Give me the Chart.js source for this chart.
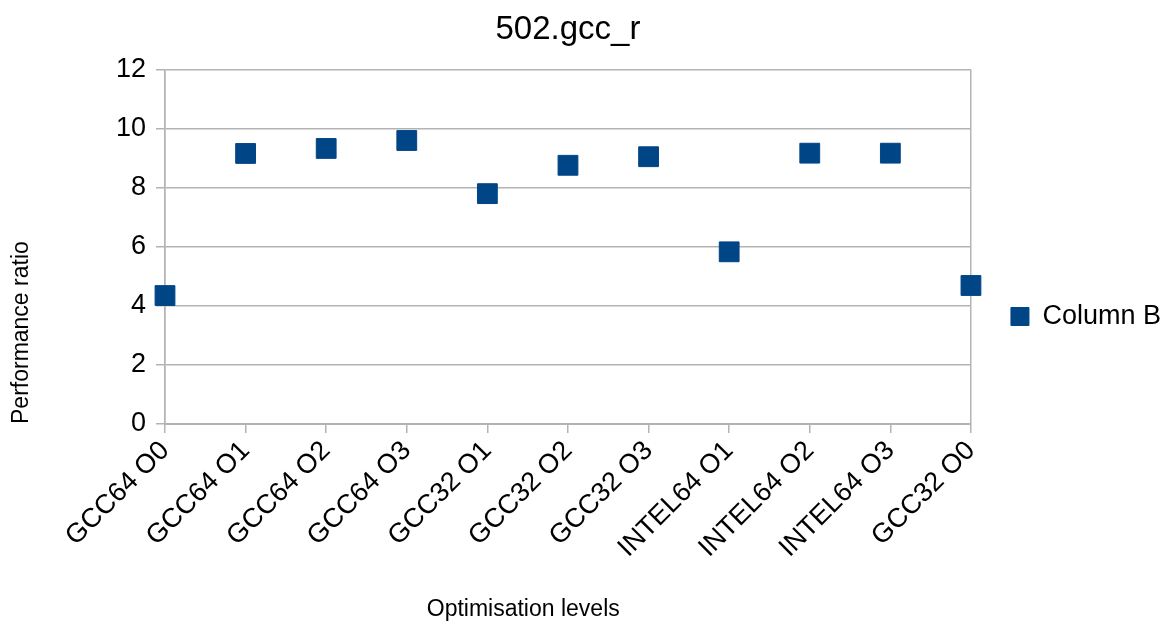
<!DOCTYPE html>
<html>
<head>
<meta charset="utf-8">
<script src="https://cdn.jsdelivr.net/npm/chart.js@4"></script>
<style>
  html, body { margin: 0; padding: 0; background: #fff; }
  #wrap { width: 1165px; height: 627px; }
</style>
</head>
<body>
<div id="wrap"><canvas id="chart" width="1165" height="627"></canvas></div>
<script>
// categories and values
const levels = ["GCC64 O0", "GCC64 O1", "GCC64 O2", "GCC64 O3", "GCC32 O1", "GCC32 O2",
  "GCC32 O3", "INTEL64 O1", "INTEL64 O2", "INTEL64 O3", "GCC32 O0"];
const columnB = [4.35, 9.16, 9.33, 9.6, 7.8, 8.76, 9.05, 5.83, 9.17, 9.17, 4.69];
const yTicks = [0, 2, 4, 6, 8, 10, 12];

const gridGrey = "#b3b3b3";
const blue = "#004586";
const fontFam = "'Liberation Sans', Arial, sans-serif";

const ctx = document.getElementById("chart").getContext("2d");
new Chart(ctx, {
  type: "line",
  data: {
    labels: levels,
    datasets: [{
      label: "Column B",
      data: columnB,
      showLine: false,
      pointStyle: "rect",
      pointRadius: 14,
      pointHoverRadius: 14,
      backgroundColor: blue,
      borderColor: blue,
      borderWidth: 1,
    }],
  },
  options: {
    responsive: false,
    animation: false,
    layout: { padding: { left: 8, right: -6, top: 10, bottom: 4 } },
    plugins: {
      title: {
        display: true,
        fullSize: false,
        text: "502.gcc_r",
        color: "#000",
        font: { family: fontFam, size: 33, weight: "normal" },
        padding: { top: 0, bottom: 20 },
      },
      legend: {
        position: "right",
        labels: {
          color: "#000",
          font: { family: fontFam, size: 27 },
          usePointStyle: true,
          pointStyle: "rect",
          boxWidth: 18,
          boxHeight: 18,
          padding: 40,
        },
      },
      tooltip: { enabled: false },
    },
    scales: {
      x: {
        offset: false,
        afterFit: (scale) => { scale.height = 199; },
        grid: {
          color: (c) => (c.index === 0 || c.index === levels.length - 1 ? gridGrey : "transparent"),
          tickColor: gridGrey,
          tickLength: 9,
          lineWidth: 1.5,
        },
        border: { display: true, color: gridGrey, width: 2 },
        ticks: {
          color: "#000",
          font: { family: fontFam, size: 27 },
          maxRotation: 45,
          minRotation: 45,
          autoSkip: false,
          padding: 2,
        },
        title: {
          display: true,
          // trailing spaces push the title left, like the original which centres it under the labels too
          text: "Optimisation levels" + " ".repeat(14),
          color: "#000",
          font: { family: fontFam, size: 23 },
          padding: { top: 20, bottom: 0 },
        },
      },
      y: {
        min: 0,
        max: 12,
        afterFit: (scale) => { scale.width = 157; },
        afterBuildTicks: (scale) => { scale.ticks = yTicks.map(v => ({ value: v })); },
        grid: { color: gridGrey, tickColor: gridGrey, tickLength: 9, lineWidth: 1.5 },
        border: { display: true, color: gridGrey, width: 1.5 },
        ticks: {
          color: "#000",
          font: { family: fontFam, size: 27 },
          padding: 10,
        },
        title: {
          display: true,
          align: "start",
          text: "Performance ratio",
          color: "#000",
          font: { family: fontFam, size: 23 },
          padding: { top: 0, bottom: 30 },
        },
      },
    },
  },
});
</script>
</body>
</html>
